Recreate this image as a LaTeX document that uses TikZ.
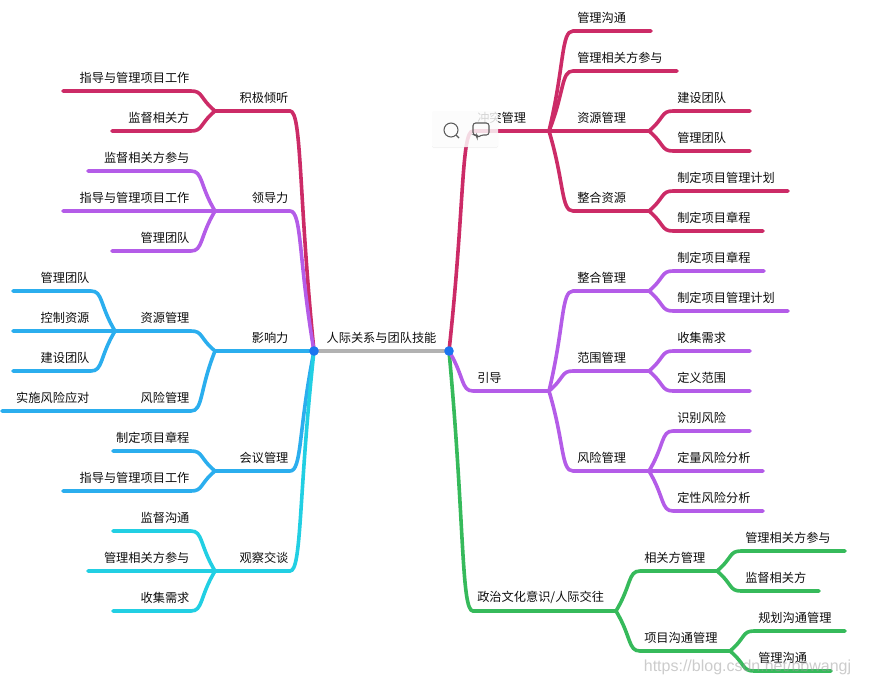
\documentclass[tikz,border=0pt]{standalone}
\usepackage{fontspec}
\setmainfont{Noto Sans CJK SC}
\newfontfamily\markfont{Liberation Sans}
\usetikzlibrary{calc,shadows}
\definecolor{crimson}{HTML}{CC2B67}
\definecolor{violet}{HTML}{B45CE8}
\definecolor{skyblue}{HTML}{2BAEEE}
\definecolor{aqua}{HTML}{22CFE3}
\definecolor{leaf}{HTML}{36BA5B}
\definecolor{hubdot}{HTML}{1A75F0}
\tikzset{
	limb/.style={to path={.. controls ($(\tikztostart)!.65!(\tikztotarget)$) and ($(\tikztotarget)!.5!(\tikztostart |- \tikztotarget)$) .. (\tikztotarget)}},
	limbline/.style={line width=2.7pt, line cap=round},
	lab/.style={inner sep=0pt, text=black!95, font=\fontsize{9.15}{11}\selectfont},
	rlab/.style={lab, anchor=west, xshift=3pt, yshift=9.9pt},
	llab/.style={lab, anchor=east, xshift=-1pt, yshift=9.9pt},
	icon/.style={draw=black!65, line width=.8pt},
}
\begin{document}
\begin{tikzpicture}[x=0.75pt, y=-0.75pt]
	\useasboundingbox (0,0) rectangle (889,679);
	\coordinate (hubL) at (314,351);
	\coordinate (hubR) at (449,351);
	\draw[line width=2.9pt, color=black!30] (hubL) -- (hubR);
	\node[lab] (title) at (381.5,337.8) {人际关系与团队技能};
	% right half
	\foreach \from/\id/\y/\xe/\col/\txt in {
		hubR/conflict/131/549/crimson/冲突管理,
		conflict/cfComm/31/651/crimson/管理沟通,
		conflict/cfStake/71/677/crimson/管理相关方参与,
		conflict/cfRes/131/649/crimson/资源管理,
		cfRes/cfTeam/111/750/crimson/建设团队,
		cfRes/cfManage/151/750/crimson/管理团队,
		conflict/cfInt/211/649/crimson/整合资源,
		cfInt/cfPlan/191/788/crimson/制定项目管理计划,
		cfInt/cfCharter/231/763/crimson/制定项目章程,
		hubR/politics/611/616/leaf/{政治文化意识/人际交往},
		politics/poStake/571/717/leaf/相关方管理,
		poStake/poManage/551/845/leaf/管理相关方参与,
		poStake/poWatch/591/819/leaf/监督相关方,
		politics/poComm/651/730/leaf/项目沟通管理,
		poComm/poPlan/631/845/leaf/规划沟通管理,
		poComm/poDo/671/831/leaf/管理沟通,
		hubR/guide/391/549/violet/引导,
		guide/guInt/291/649/violet/整合管理,
		guInt/guCharter/271/764/violet/制定项目章程,
		guInt/guPlan/311/788/violet/制定项目管理计划,
		guide/guScope/371/649/violet/范围管理,
		guScope/guNeed/351/750/violet/收集需求,
		guScope/guDefine/391/750/violet/定义范围,
		guide/guRisk/471/649/violet/风险管理,
		guRisk/guFind/431/750/violet/识别风险,
		guRisk/guQuant/471/763/violet/定量风险分析,
		guRisk/guQual/511/763/violet/定性风险分析%
	}{
		\coordinate (\id) at (\xe,\y);
		\coordinate (\id t) at ($(\from |- \id)+(24,0)$);
		\draw[limbline, color=\col] (\from) to[limb] (\id t) -- (\id);
		\node[rlab] (\id l) at (\id t) {\txt};
	}
	% left half
	\foreach \from/\id/\y/\xe/\col/\txt in {
		hubL/listen/111/215/crimson/积极倾听,
		listen/liDirect/91/63/crimson/指导与管理项目工作,
		listen/liWatch/131/112/crimson/监督相关方,
		hubL/leader/211/215/violet/领导力,
		leader/leWatch/171/88/violet/监督相关方参与,
		leader/leDirect/211/63/violet/指导与管理项目工作,
		leader/leTeam/251/112/violet/管理团队,
		hubL/power/351/215/skyblue/影响力,
		power/poRes/331/115/skyblue/资源管理,
		poRes/prTeam/291/13/skyblue/管理团队,
		poRes/prCtrl/331/13/skyblue/控制资源,
		poRes/prBuild/371/13/skyblue/建设团队,
		power/poRisk/411/115/skyblue/风险管理,
		poRisk/prAct/411/2/skyblue/实施风险应对,
		hubL/meet/471/215/skyblue/会议管理,
		meet/meCharter/451/113/skyblue/制定项目章程,
		meet/meDirect/491/63/skyblue/指导与管理项目工作,
		hubL/watch/571/215/aqua/观察交谈,
		watch/waComm/531/113/aqua/监督沟通,
		watch/waStake/571/88/aqua/管理相关方参与,
		watch/waNeed/611/113/aqua/收集需求%
	}{
		\coordinate (\id) at (\xe,\y);
		\coordinate (\id t) at ($(\from |- \id)+(-24,0)$);
		\draw[limbline, color=\col] (\from) to[limb] (\id t) -- (\id);
		\node[llab] (\id l) at (\id t) {\txt};
	}
	\fill[hubdot] (hubL) circle (4.8);
	\fill[hubdot] (hubR) circle (4.8);
	% toolbar over the first branch
	\fill[white, fill opacity=.82, rounded corners=1pt, drop shadow={opacity=.1, shadow xshift=0pt, shadow yshift=-.8pt}] (432,110) rectangle (498,147);
	\draw[icon] (451,130) circle (7);
	\draw[icon] (456,135) -- (459,138);
	\draw[icon, rounded corners=2pt] (473,123) -- (489,123) -- (489,135) -- (481,135) -- (477,138) -- (477,135) -- (473,135) -- cycle;
	\node[inner sep=0pt, text=black!40, text opacity=.5, font=\markfont\fontsize{12}{14}\selectfont] (mark) at (747.5,667) {https://blog.csdn.net/bbwangj};
\end{tikzpicture}
\end{document}
